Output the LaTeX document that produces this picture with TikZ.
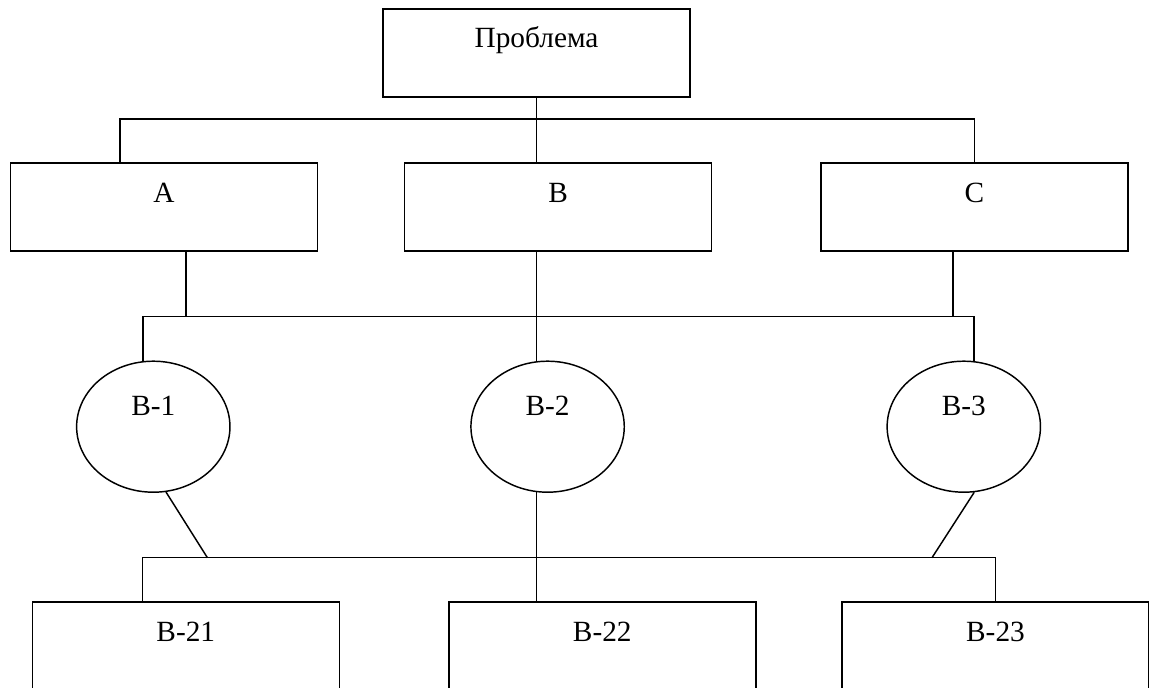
\documentclass[tikz,border=0pt]{standalone}
\usepackage{fontspec}
\setmainfont{Liberation Serif}
\usetikzlibrary{shapes.geometric}

\begin{document}
\begin{tikzpicture}[x=0.75pt, y=-0.75pt, line width=1.1pt,
  blk/.style={rectangle, draw, inner sep=0pt, minimum width=230.25pt,
              text height=29.25pt, text depth=36.75pt, font=\fontsize{22}{26}\selectfont},
  var/.style={ellipse, draw, inner sep=0pt, minimum width=115pt, minimum height=98.25pt,
              text height=5.25pt, text depth=22.5pt, font=\fontsize{22}{26}\selectfont}
]
\useasboundingbox (0,0) rectangle (1149,688);
\clip (0,0) rectangle (1149,688);

%% ---- Top: problem ----
\node[blk] (top) at (536.5, 53) {Проблема};

%% ---- Row 1: A, B, C ----
\node[blk] (A) at (164.0, 207) {A};
\node[blk] (B) at (558.2, 207) {B};
\node[blk] (C) at (974.4, 207) {C};

%% ---- Row 2: variants ----
\node[var] (B1) at (153.3, 426.7) {B-1};
\node[var] (B2) at (547.6, 426.7) {B-2};
\node[var] (B3) at (963.8, 426.7) {B-3};

%% ---- Row 3: sub-variants ----
\node[blk] (B21) at (185.8, 646) {B-21};
\node[blk] (B22) at (602.3, 646) {B-22};
\node[blk] (B23) at (995.5, 646) {B-23};

%% ---- Bus points ----
\coordinate (busHi)  at (120, 119);
\coordinate (busMid) at (0, 316.7);
\coordinate (busLow) at (142.4, 557.7);
\coordinate (dropA)  at (186, 316.7);
\coordinate (dropC)  at (953, 316.7);
\coordinate (footL)  at (207.4, 557.7);
\coordinate (footR)  at (932, 557.7);

%% ---- Top to row 1 ----
\draw (top.south) -- (top.south |- B.north);
\draw (busHi |- A.north) -- (busHi) -- (C.north |- busHi) -- (C.north);

%% ---- Row 1 to row 2 ----
\draw (dropA |- A.south) -- (dropA);
\draw (dropC |- C.south) -- (dropC);
\draw (top.south |- B.south) -- (top.south |- B2.99);
\draw (B1.99) -- (B1.99 |- busMid) -- (B3.81 |- busMid) -- (B3.81);

%% ---- Row 2 to row 3 ----
\draw (B1.281) -- (footL);
\draw (B3.279) -- (footR);
\draw (top.south |- B2.261) -- (top.south |- B22.north);
\draw (busLow |- B21.north) -- (busLow) -- (B23.north |- busLow) -- (B23.north);

\end{tikzpicture}
\end{document}
